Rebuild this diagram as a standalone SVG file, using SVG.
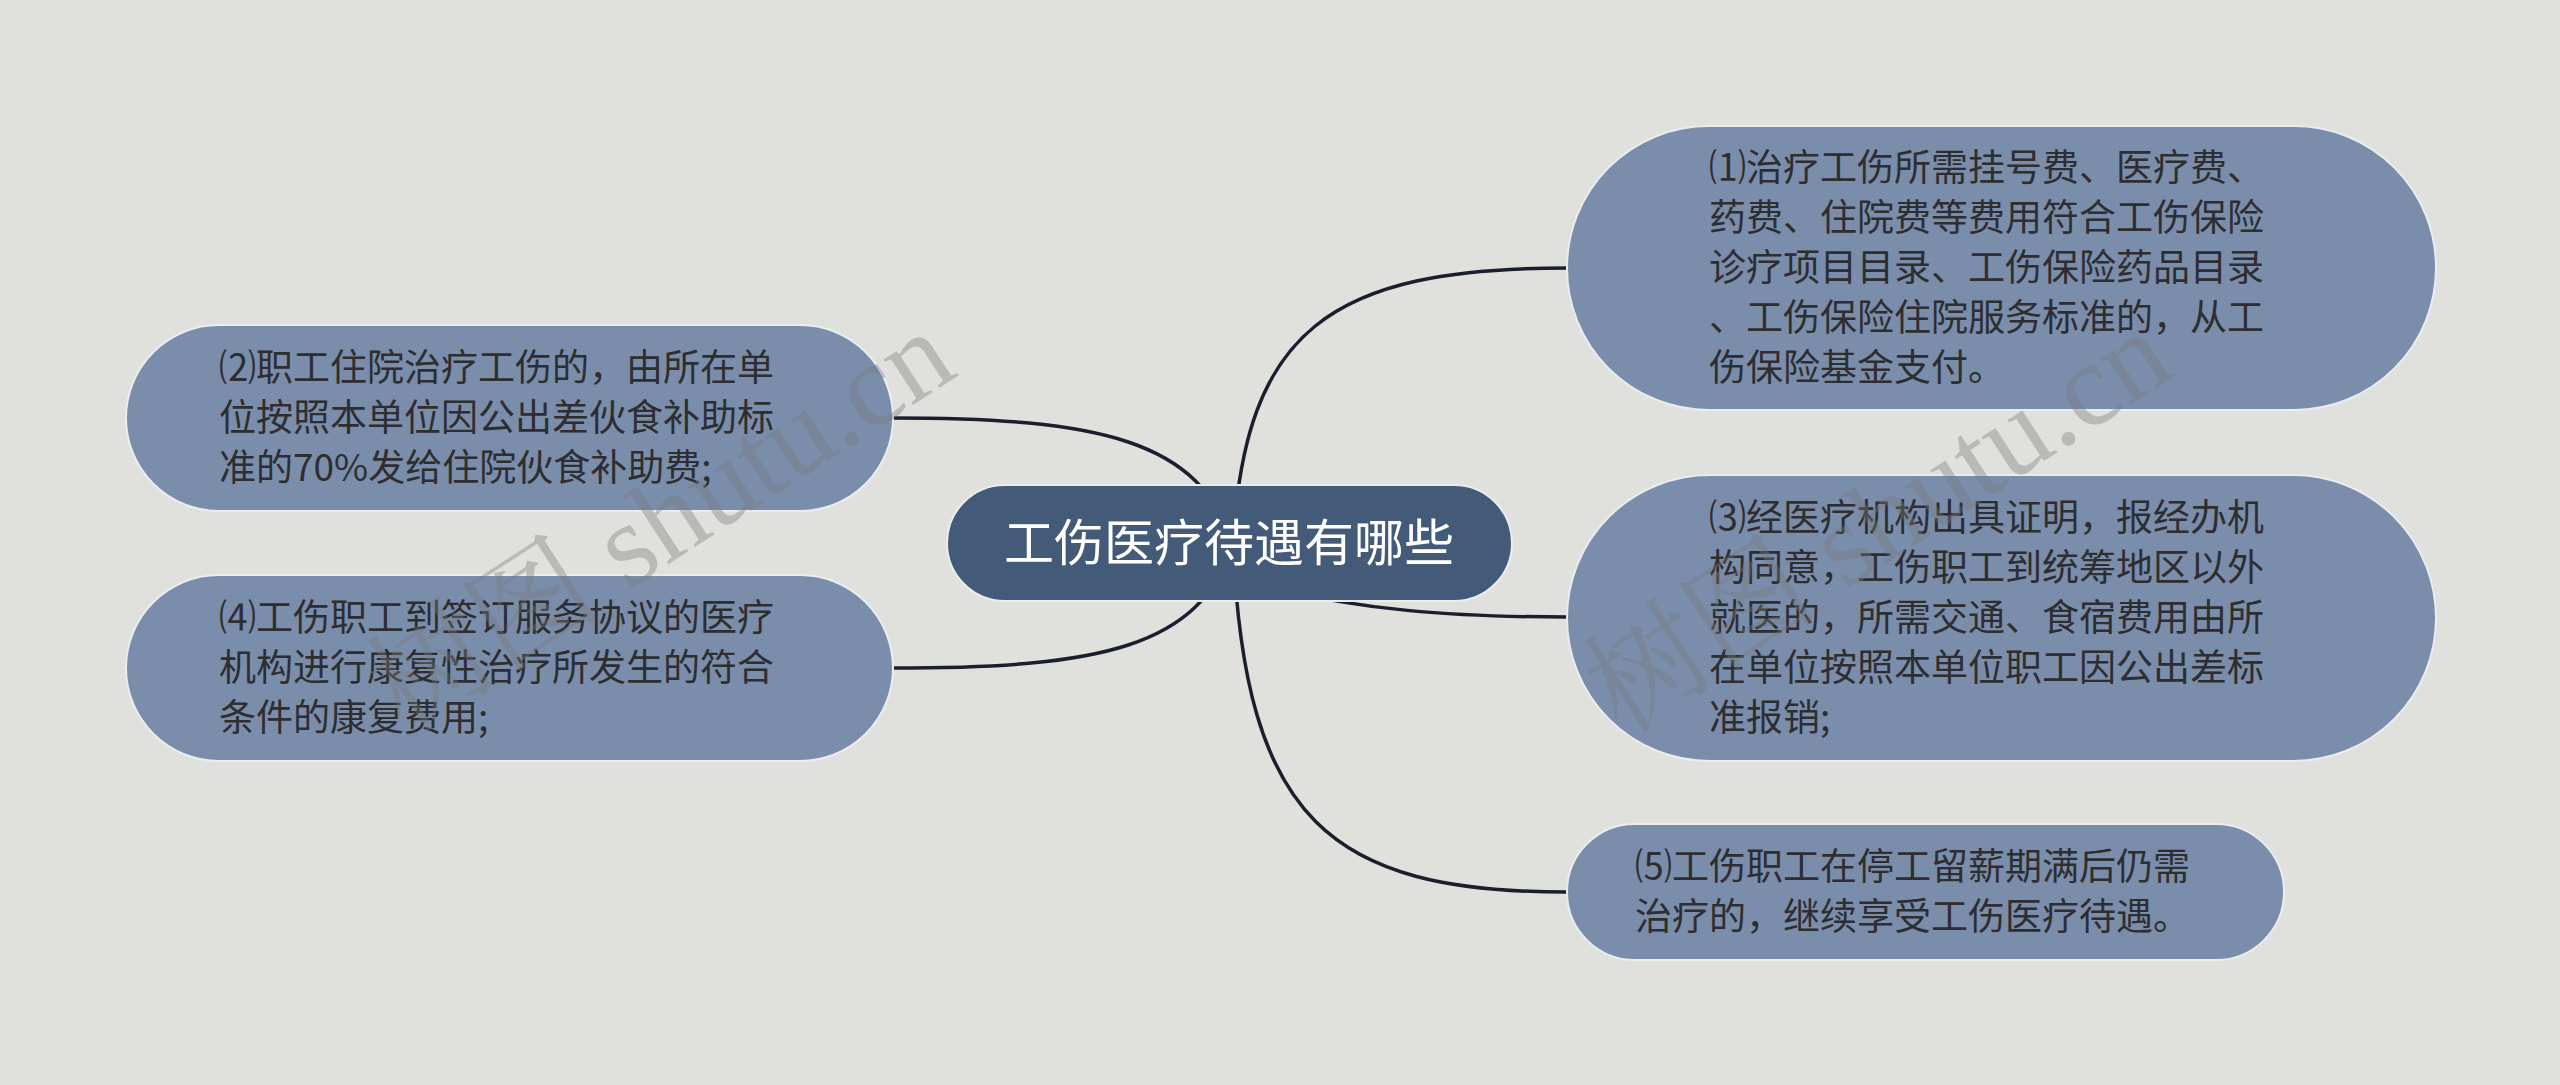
<svg xmlns="http://www.w3.org/2000/svg" width="2560" height="1085" viewBox="0 0 2560 1085">
<style>
.bg{fill:#e0e1dd}
.node{fill:#7a8dab;stroke:#e9edf1;stroke-width:2}
.root{fill:#435a78;stroke:#e9edf1;stroke-width:2}
.t{font-family:"Noto Sans CJK SC","Noto Sans",sans-serif;font-size:37px;fill:#2e2e30}
.rt{font-family:"Noto Sans CJK SC","Noto Sans",sans-serif;font-size:50px;fill:#ffffff;text-anchor:middle}
.c{fill:none;stroke:#1a1f2d;stroke-width:3.5;stroke-linecap:round}
.wm{font-family:"Liberation Serif","Noto Serif CJK SC","Noto Sans CJK SC",serif;font-size:118px;fill:#7a7a7a;fill-opacity:0.38}
</style>
<rect class="bg" x="0" y="0" width="2560" height="1085"/>
<g id="connectors">
<path class="c" d="M1233 544 C1245 330 1330 268 1567 268"/>
<path class="c" d="M1233 544 C1200 440 1100 418 893 418"/>
<path class="c" d="M1233 544 C1200 648 1100 668 893 668"/>
<path class="c" d="M1260 585 C1360 610 1450 617 1567 617"/>
<path class="c" d="M1233 544 C1245 820 1330 892 1567 892"/>
</g>
<g id="root">
<rect class="root" x="947" y="485" width="565" height="116" rx="58" ry="58"/>
<text class="rt" x="1229" y="561">工伤医疗待遇有哪些</text>
</g>
<g id="node1">
<rect class="node" x="1567" y="126" width="869" height="284" rx="142" ry="142"/>
<text class="t"><tspan x="1709" y="181">⑴治疗工伤所需挂号费、医疗费、</tspan><tspan x="1709" y="231">药费、住院费等费用符合工伤保险</tspan><tspan x="1709" y="281">诊疗项目目录、工伤保险药品目录</tspan><tspan x="1709" y="331">、工伤保险住院服务标准的，从工</tspan><tspan x="1709" y="381">伤保险基金支付。</tspan></text>
</g>
<g id="node2">
<rect class="node" x="126" y="325" width="767" height="186" rx="93" ry="93"/>
<text class="t"><tspan x="219" y="381">⑵职工住院治疗工伤的，由所在单</tspan><tspan x="219" y="431">位按照本单位因公出差伙食补助标</tspan><tspan x="219" y="481">准的70%发给住院伙食补助费;</tspan></text>
</g>
<g id="node3">
<rect class="node" x="1567" y="475" width="869" height="286" rx="143" ry="143"/>
<text class="t"><tspan x="1709" y="531">⑶经医疗机构出具证明，报经办机</tspan><tspan x="1709" y="581">构同意，工伤职工到统筹地区以外</tspan><tspan x="1709" y="631">就医的，所需交通、食宿费用由所</tspan><tspan x="1709" y="681">在单位按照本单位职工因公出差标</tspan><tspan x="1709" y="731">准报销;</tspan></text>
</g>
<g id="node4">
<rect class="node" x="126" y="575" width="767" height="186" rx="93" ry="93"/>
<text class="t"><tspan x="219" y="631">⑷工伤职工到签订服务协议的医疗</tspan><tspan x="219" y="681">机构进行康复性治疗所发生的符合</tspan><tspan x="219" y="731">条件的康复费用;</tspan></text>
</g>
<g id="node5">
<rect class="node" x="1567" y="824" width="717" height="136" rx="68" ry="68"/>
<text class="t"><tspan x="1635" y="880">⑸工伤职工在停工留薪期满后仍需</tspan><tspan x="1635" y="930">治疗的，继续享受工伤医疗待遇。</tspan></text>
</g>
<g id="watermark">
<text class="wm" x="405" y="735" transform="rotate(-33 405 735)">树图 shutu.cn</text>
<text class="wm" x="1622" y="735" transform="rotate(-33 1622 735)">树图 shutu.cn</text>
</g>
</svg>
